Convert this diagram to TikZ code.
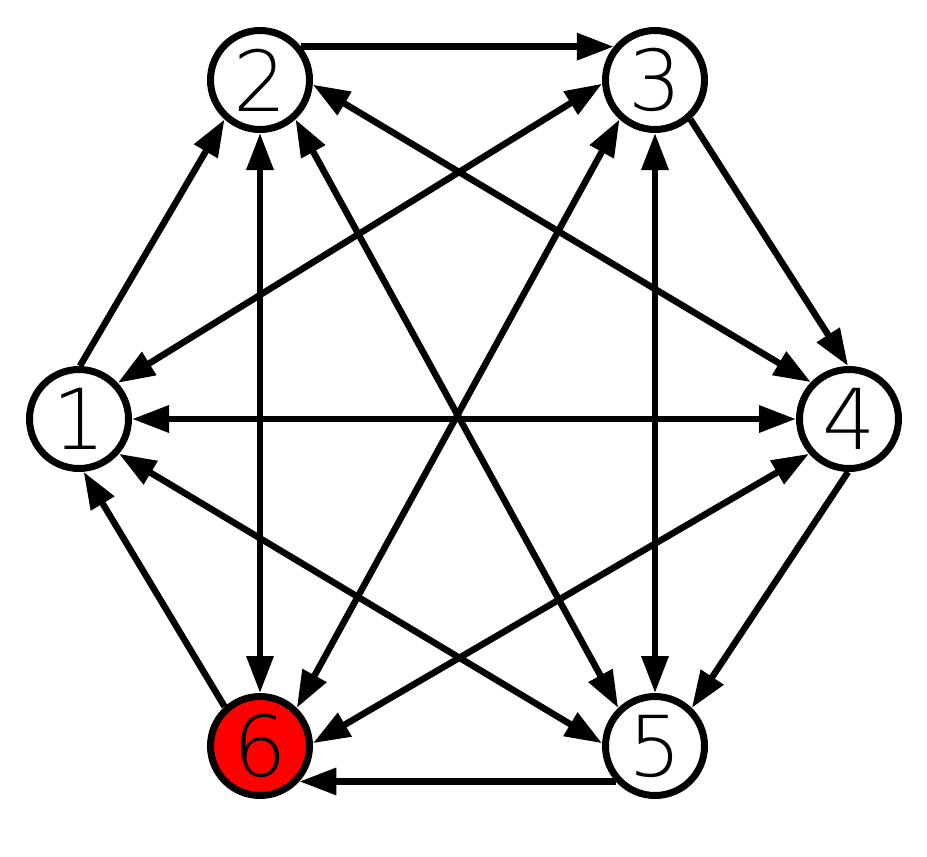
\documentclass[tikz,border=0pt]{standalone}
\usepackage{fontspec}
\setmainfont{DejaVuSans-ExtraLight.ttf}
\usepackage{tikz}
\usetikzlibrary{arrows.meta}

\begin{document}
\begin{tikzpicture}[
    x=1pt, y=-1pt,
    vertex/.style={draw, circle, line width=7pt, minimum size=99pt, inner sep=0pt, fill=white, font=\fontsize{84}{84}\selectfont},
    arrow/.style={line width=6.5pt, -{Triangle[length=37pt,width=26pt]}},
    biarrow/.style={line width=6.5pt, {Triangle[length=37pt,width=26pt]}-{Triangle[length=37pt,width=26pt]}}
]
\useasboundingbox (0,0) rectangle (927,857);

% Nodes
\node (v1) [vertex] at (79,419) {1};
\node (v2) [vertex] at (260,80) {2};
\node (v3) [vertex] at (655,80) {3};
\node (v4) [vertex] at (849,419) {4};
\node (v5) [vertex] at (655,746) {5};
\node (v6) [vertex, fill=red] at (260,746) {6};

% Links (outer ring)
\draw[arrow] (v2.39) -- (v3.141);
\draw[arrow] (v3.-48) -- (v4.91);
\draw[arrow] (v4.-91) -- (v5.46);
\draw[arrow] (v5.-138) -- (v6.-42);
\draw[arrow] (v6.132) -- (v1.-85);
\draw[arrow] (v1.89) -- (v2.-132);

% Links (inner)
\draw[biarrow] (v2.-90) -- (v6.90);
\draw[biarrow] (v3.-90) -- (v5.90);
\draw[biarrow] (v1.0) -- (v4.180);
\draw[biarrow] (v1.43) -- (v3.184);
\draw[biarrow] (v2.-5) -- (v4.136);
\draw[biarrow] (v2.-48) -- (v5.134);
\draw[biarrow] (v3.-132) -- (v6.46);
\draw[biarrow] (v4.-139) -- (v6.3);
\draw[biarrow] (v1.-41) -- (v5.177);

\end{tikzpicture}
\end{document}
